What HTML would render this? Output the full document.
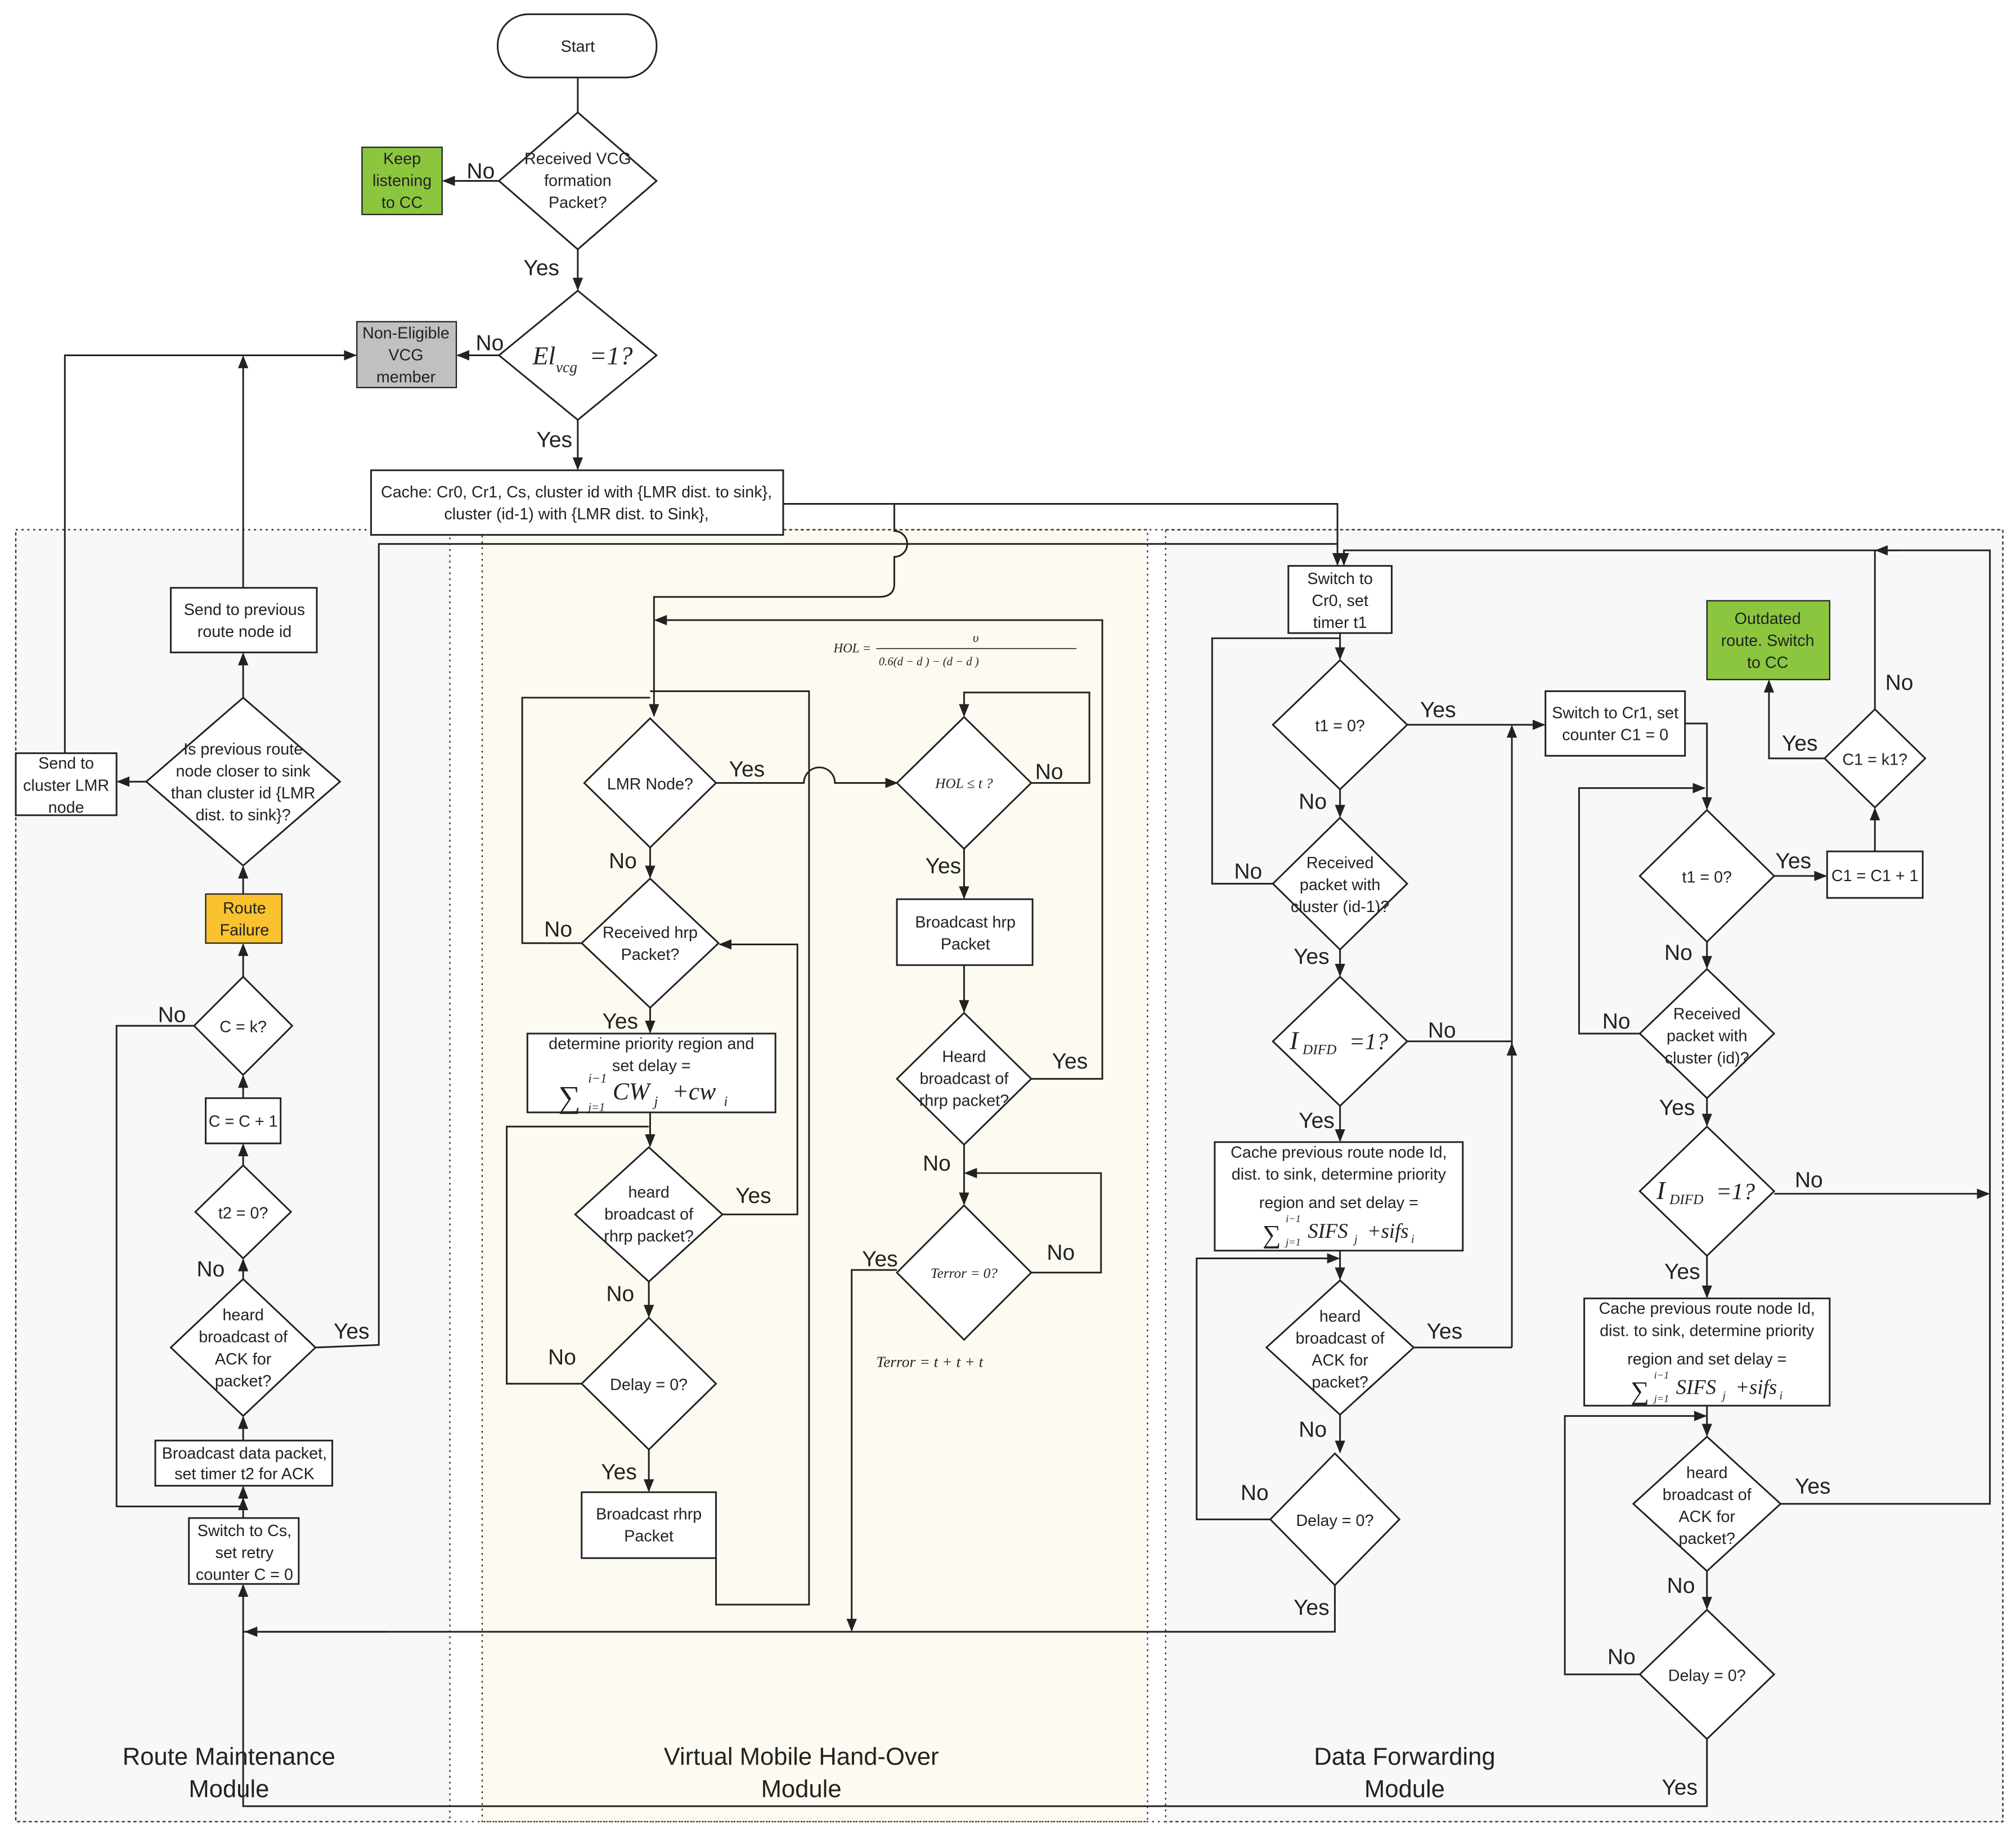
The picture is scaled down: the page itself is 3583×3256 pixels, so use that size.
<!DOCTYPE html>
<html><head><meta charset="utf-8"><style>
html,body{margin:0;padding:0;background:#fff;}
svg{display:block;}
text{font-family:"Liberation Sans",sans-serif;fill:#222;}
.t{font-size:12.5px;text-anchor:middle;}
.l{font-size:17px;}
.m{font-size:19px;text-anchor:middle;}
.s{font-family:"Liberation Serif",serif;font-style:italic;}
.sh{fill:#fff;stroke:#222;stroke-width:1.3;}
.ln{fill:none;stroke:#222;stroke-width:1.3;}
</style></head><body>
<svg width="3583" height="3256" viewBox="0 0 1560 1418" xmlns="http://www.w3.org/2000/svg">
<defs><marker id="a" markerWidth="10" markerHeight="10" refX="9" refY="5" orient="auto" markerUnits="userSpaceOnUse"><path d="M0,1 L10,5 L0,9 Z" fill="#222"/></marker></defs>
<rect width="1560" height="1418" fill="#fff"/>
<!-- modules -->
<rect x="12" y="410" width="336" height="1000" fill="#f8f8f8" stroke="#333" stroke-dasharray="1.5,3"/>
<rect x="373" y="410" width="515" height="1000" fill="#fdfbf1" stroke="#333" stroke-dasharray="1.5,3"/>
<rect x="902" y="410" width="648" height="1000" fill="#f9f8f8" stroke="#333" stroke-dasharray="1.5,3"/>
<rect x="12" y="410" width="1538" height="1000" fill="none" stroke="#333" stroke-dasharray="1.5,3"/>
<text class="m" x="177" y="1366">Route Maintenance</text><text class="m" x="177" y="1391">Module</text>
<text class="m" x="620" y="1366">Virtual Mobile Hand-Over</text><text class="m" x="620" y="1391">Module</text>
<text class="m" x="1087" y="1366">Data Forwarding</text><text class="m" x="1087" y="1391">Module</text>

<!-- top -->
<rect class="sh" x="385" y="11" width="123" height="49" rx="24"/><text class="t" x="447" y="40">Start</text>
<path class="ln" d="M447,60 V87"/>
<polygon class="sh" points="447,87 508,140 447,193 386,140"/>
<text class="t" x="447" y="127">Received VCG</text><text class="t" x="447" y="144">formation</text><text class="t" x="447" y="161">Packet?</text>
<rect x="280" y="114" width="62" height="52" fill="#8cc63f" stroke="#222"/>
<text class="t" x="311" y="127">Keep</text><text class="t" x="311" y="144">listening</text><text class="t" x="311" y="161">to CC</text>
<path class="ln" d="M386,140 H343" marker-end="url(#a)"/><text class="l" x="361" y="138">No</text>
<path class="ln" d="M447,193 V224" marker-end="url(#a)"/><text class="l" x="405" y="213">Yes</text>
<polygon class="sh" points="447,225 508,275 447,325 386,275"/>
<text class="s" x="412" y="282" font-size="20">El</text><text class="s" x="430" y="288" font-size="12">vcg</text><text class="s" x="456" y="282" font-size="20">=1?</text>
<rect x="276" y="249" width="77" height="51" fill="#c0c0c0" stroke="#222"/>
<text class="t" x="314" y="262">Non-Eligible</text><text class="t" x="314" y="279">VCG</text><text class="t" x="314" y="296">member</text>
<path class="ln" d="M386,275 H354" marker-end="url(#a)"/><text class="l" x="368" y="271">No</text>
<path class="ln" d="M447,325 V363" marker-end="url(#a)"/><text class="l" x="415" y="346">Yes</text>
<rect class="sh" x="287" y="364" width="319" height="50"/>
<text class="t" x="446" y="385">Cache: Cr0, Cr1, Cs, cluster id with {LMR dist. to sink},</text>
<text class="t" x="446" y="402">cluster (id-1) with {LMR dist. to Sink},</text>
<path class="ln" d="M606,390 H1035 V437" marker-end="url(#a)"/>
<path class="ln" d="M692,390 V411 a10,10 0 0 1 0,20 V452 Q692,462 680,462 H506 V554" marker-end="url(#a)"/>

<!-- left module -->
<rect class="sh" x="132" y="455" width="113" height="50"/>
<text class="t" x="189" y="476">Send to previous</text><text class="t" x="189" y="493">route node id</text>
<path class="ln" d="M188,455 V276" marker-end="url(#a)"/>
<path class="ln" d="M50,583 V275 H275" marker-end="url(#a)"/>
<polygon class="sh" points="188,540 263,605 188,670 113,605"/>
<text class="t" x="188" y="584">Is previous route</text><text class="t" x="188" y="601">node closer to sink</text><text class="t" x="188" y="618">than cluster id {LMR</text><text class="t" x="188" y="635">dist. to sink}?</text>
<path class="ln" d="M188,540 V506" marker-end="url(#a)"/>
<rect class="sh" x="12" y="583" width="78" height="48"/>
<text class="t" x="51" y="595">Send to</text><text class="t" x="51" y="612">cluster LMR</text><text class="t" x="51" y="629">node</text>
<path class="ln" d="M113,605 H91" marker-end="url(#a)"/>
<rect x="159" y="692" width="59" height="38" fill="#f9c22e" stroke="#222"/>
<text class="t" x="189" y="707">Route</text><text class="t" x="189" y="724">Failure</text>
<path class="ln" d="M188,692 V671" marker-end="url(#a)"/>
<polygon class="sh" points="188,756 226,794 188,832 150,794"/><text class="t" x="188" y="799">C = k?</text>
<path class="ln" d="M188,756 V731" marker-end="url(#a)"/>
<path class="ln" d="M150,794 H90 V1166 H188"/><text class="l" x="122" y="791">No</text>
<rect class="sh" x="159" y="850" width="58" height="35"/><text class="t" x="188" y="872">C = C + 1</text>
<path class="ln" d="M188,850 V833" marker-end="url(#a)"/>
<polygon class="sh" points="188,902 225,938 188,974 151,938"/><text class="t" x="188" y="943">t2 = 0?</text>
<path class="ln" d="M188,902 V886" marker-end="url(#a)"/>
<polygon class="sh" points="188,990 244,1043 188,1096 132,1043"/>
<text class="t" x="188" y="1022">heard</text><text class="t" x="188" y="1039">broadcast of</text><text class="t" x="188" y="1056">ACK for</text><text class="t" x="188" y="1073">packet?</text>
<path class="ln" d="M188,990 V975" marker-end="url(#a)"/><text class="l" x="152" y="988">No</text>
<path class="ln" d="M244,1043 L293,1041 V421 H1035"/><text class="l" x="258" y="1036">Yes</text>
<rect class="sh" x="120" y="1115" width="137" height="35"/>
<text class="t" x="189" y="1129">Broadcast data packet,</text><text class="t" x="189" y="1145">set timer t2 for ACK</text>
<path class="ln" d="M188,1115 V1097" marker-end="url(#a)"/>
<rect class="sh" x="146" y="1175" width="85" height="51"/>
<text class="t" x="189" y="1189">Switch to Cs,</text><text class="t" x="189" y="1206">set retry</text><text class="t" x="189" y="1223">counter C = 0</text>
<path class="ln" d="M188,1175 V1151" marker-end="url(#a)"/>
<path class="ln" d="M188,1166 V1160" marker-end="url(#a)"/>
<path class="ln" d="M1321,1346 V1398 H188 V1227" marker-end="url(#a)"/>
<path class="ln" d="M1033,1227 V1263 H188"/>
<path class="ln" d="M300,1263 H190" marker-end="url(#a)"/>

<!-- middle module -->
<polygon class="sh" points="503,556 554,606 503,656 452,606"/><text class="t" x="503" y="611">LMR Node?</text>
<path class="ln" d="M554,606 H622 a12,12 0 0 1 24,0 H694" marker-end="url(#a)"/><text class="l" x="564" y="601">Yes</text>
<path class="ln" d="M503,656 V679" marker-end="url(#a)"/><text class="l" x="471" y="672">No</text>
<polygon class="sh" points="503,680 556,730 503,780 450,730"/>
<text class="t" x="503" y="726">Received hrp</text><text class="t" x="503" y="743">Packet?</text>
<path class="ln" d="M450,730 H404 V540 H503"/><text class="l" x="421" y="725">No</text>
<path class="ln" d="M554,1206 V1242 H626 V535 H503"/>
<path class="ln" d="M503,780 V799" marker-end="url(#a)"/><text class="l" x="466" y="796">Yes</text>
<rect class="sh" x="408" y="800" width="192" height="61"/>
<text class="t" x="504" y="812">determine priority region and</text><text class="t" x="504" y="829">set delay =</text>
<text class="s" x="432" y="857" font-size="24">∑</text><text class="s" x="455" y="860" font-size="9">j=1</text><text class="s" x="455" y="838" font-size="10">i−1</text>
<text class="s" x="474" y="851" font-size="19">CW</text><text class="s" x="506" y="856" font-size="11">j</text><text class="s" x="520" y="851" font-size="19">+cw</text><text class="s" x="560" y="856" font-size="11">i</text>
<path class="ln" d="M503,861 V887" marker-end="url(#a)"/>
<polygon class="sh" points="502,888 559,940 502,992 445,940"/>
<text class="t" x="502" y="927">heard</text><text class="t" x="502" y="944">broadcast of</text><text class="t" x="502" y="961">rhrp packet?</text>
<path class="ln" d="M559,940 H617 V731 H557" marker-end="url(#a)"/><text class="l" x="569" y="931">Yes</text>
<path class="ln" d="M502,992 V1019" marker-end="url(#a)"/><text class="l" x="469" y="1007">No</text>
<polygon class="sh" points="502,1020 554,1071 502,1122 450,1071"/><text class="t" x="502" y="1076">Delay = 0?</text>
<path class="ln" d="M450,1071 H392 V872 H502"/><text class="l" x="424" y="1056">No</text>
<path class="ln" d="M502,1122 V1154" marker-end="url(#a)"/><text class="l" x="465" y="1145">Yes</text>
<rect class="sh" x="450" y="1155" width="104" height="51"/>
<text class="t" x="502" y="1176">Broadcast rhrp</text><text class="t" x="502" y="1193">Packet</text>

<text class="s" x="645" y="505" font-size="10">HOL =</text>
<line x1="678" y1="502" x2="833" y2="502" stroke="#222" stroke-width="0.7"/>
<text class="s" x="755" y="497" font-size="10" text-anchor="middle">υ</text>
<text class="s" x="680" y="515" font-size="9">0.6(d − d ) − (d − d )</text>
<polygon class="sh" points="746,555 798,606 746,657 694,606"/>
<text class="s" x="746" y="610" font-size="11" text-anchor="middle">HOL ≤ t   ?</text>
<path class="ln" d="M798,606 H843 V536 H746 V554" marker-end="url(#a)"/><text class="l" x="801" y="603">No</text>
<path class="ln" d="M746,657 V695" marker-end="url(#a)"/><text class="l" x="716" y="676">Yes</text>
<rect class="sh" x="694" y="696" width="105" height="51"/>
<text class="t" x="747" y="718">Broadcast hrp</text><text class="t" x="747" y="735">Packet</text>
<path class="ln" d="M746,747 V783" marker-end="url(#a)"/>
<polygon class="sh" points="746,784 798,835 746,886 694,835"/>
<text class="t" x="746" y="822">Heard</text><text class="t" x="746" y="839">broadcast of</text><text class="t" x="746" y="856">rhrp packet?</text>
<path class="ln" d="M798,835 H853 V480 H507" marker-end="url(#a)"/><text class="l" x="814" y="827">Yes</text>
<path class="ln" d="M746,886 V932" marker-end="url(#a)"/><text class="l" x="714" y="906">No</text>
<polygon class="sh" points="746,933 798,985 746,1037 694,985"/>
<text class="s" x="746" y="989" font-size="11" text-anchor="middle">Terror = 0?</text>
<path class="ln" d="M798,985 H852 V908 H747" marker-end="url(#a)"/><text class="l" x="810" y="975">No</text>
<path class="ln" d="M694,983 H659 V1262" marker-end="url(#a)"/><text class="l" x="667" y="980">Yes</text>
<text class="s" x="678" y="1058" font-size="12">Terror = t   + t   + t</text>

<!-- right module -->
<rect class="sh" x="997" y="438" width="80" height="52"/>
<text class="t" x="1037" y="452">Switch to</text><text class="t" x="1037" y="469">Cr0, set</text><text class="t" x="1037" y="486">timer t1</text>
<path class="ln" d="M1037,490 V510" marker-end="url(#a)"/>
<polygon class="sh" points="1037,511 1089,561 1037,611 985,561"/><text class="t" x="1037" y="566">t1 = 0?</text>
<path class="ln" d="M1089,561 H1195" marker-end="url(#a)"/><text class="l" x="1099" y="555">Yes</text>
<path class="ln" d="M1037,611 V632" marker-end="url(#a)"/><text class="l" x="1005" y="626">No</text>
<polygon class="sh" points="1037,633 1089,684 1037,735 985,684"/>
<text class="t" x="1037" y="672">Received</text><text class="t" x="1037" y="689">packet with</text><text class="t" x="1037" y="706">cluster (id-1)?</text>
<path class="ln" d="M985,684 H938 V494 H1037"/><text class="l" x="955" y="680">No</text>
<path class="ln" d="M1037,735 V755" marker-end="url(#a)"/><text class="l" x="1001" y="746">Yes</text>
<polygon class="sh" points="1037,756 1089,806 1037,856 985,806"/>
<text class="s" x="998" y="812" font-size="20">I</text><text class="s" x="1008" y="816" font-size="11">DIFD</text><text class="s" x="1044" y="812" font-size="18">=1?</text>
<path class="ln" d="M1089,806 H1170"/><text class="l" x="1105" y="803">No</text>
<path class="ln" d="M1170,1043 V808" marker-end="url(#a)"/>
<path class="ln" d="M1170,808 V562" marker-end="url(#a)"/>
<path class="ln" d="M1037,856 V883" marker-end="url(#a)"/><text class="l" x="1005" y="873">Yes</text>
<rect class="sh" x="940" y="884" width="192" height="84"/>
<text class="t" x="1036" y="896">Cache previous route node Id,</text><text class="t" x="1036" y="913">dist. to sink, determine priority</text><text class="t" x="1036" y="935">region and set delay =</text>
<text class="s" x="977" y="962" font-size="20">∑</text><text class="s" x="995" y="964" font-size="8">j=1</text><text class="s" x="995" y="946" font-size="8">i−1</text>
<text class="s" x="1012" y="958" font-size="16">SIFS</text><text class="s" x="1048" y="962" font-size="9">j</text><text class="s" x="1058" y="958" font-size="16">+sifs</text><text class="s" x="1092" y="962" font-size="9">i</text>
<path class="ln" d="M1037,968 V990" marker-end="url(#a)"/>
<polygon class="sh" points="1037,991 1094,1043 1037,1095 980,1043"/>
<text class="t" x="1037" y="1023">heard</text><text class="t" x="1037" y="1040">broadcast of</text><text class="t" x="1037" y="1057">ACK for</text><text class="t" x="1037" y="1074">packet?</text>
<path class="ln" d="M1094,1043 H1170"/><text class="l" x="1104" y="1036">Yes</text>
<path class="ln" d="M1037,1095 V1124" marker-end="url(#a)"/><text class="l" x="1005" y="1112">No</text>
<polygon class="sh" points="1033,1125 1083,1176 1033,1227 983,1176"/><text class="t" x="1033" y="1181">Delay = 0?</text>
<path class="ln" d="M983,1176 H926 V974 H1036" marker-end="url(#a)"/><text class="l" x="960" y="1161">No</text>
<text class="l" x="1001" y="1250">Yes</text>

<rect class="sh" x="1196" y="535" width="108" height="50"/>
<text class="t" x="1250" y="556">Switch to Cr1, set</text><text class="t" x="1250" y="573">counter C1 = 0</text>
<path class="ln" d="M1304,560 H1321 V626" marker-end="url(#a)"/>
<path class="ln" d="M1269,800 H1222 V610 H1319" marker-end="url(#a)"/><text class="l" x="1240" y="796">No</text>
<polygon class="sh" points="1321,627 1373,678 1321,729 1269,678"/><text class="t" x="1321" y="683">t1 = 0?</text>
<path class="ln" d="M1373,678 H1413" marker-end="url(#a)"/><text class="l" x="1374" y="672">Yes</text>
<rect class="sh" x="1414" y="659" width="74" height="36"/><text class="t" x="1451" y="682">C1 = C1 + 1</text>
<path class="ln" d="M1451,659 V626" marker-end="url(#a)"/>
<polygon class="sh" points="1451,549 1490,587 1451,625 1412,587"/><text class="t" x="1451" y="592">C1 = k1?</text>
<path class="ln" d="M1412,587 H1369 V527" marker-end="url(#a)"/><text class="l" x="1379" y="581">Yes</text>
<rect x="1321" y="465" width="95" height="61" fill="#8cc63f" stroke="#222"/>
<text class="t" x="1368" y="483">Outdated</text><text class="t" x="1368" y="500">route. Switch</text><text class="t" x="1368" y="517">to CC</text>
<path class="ln" d="M1451,549 V426"/><text class="l" x="1459" y="534">No</text>
<path class="ln" d="M1540,924 V426 H1040 V437" marker-end="url(#a)"/>
<path class="ln" d="M1470,426 H1452" marker-end="url(#a)"/>
<path class="ln" d="M1321,729 V749" marker-end="url(#a)"/><text class="l" x="1288" y="743">No</text>
<polygon class="sh" points="1321,750 1373,800 1321,850 1269,800"/>
<text class="t" x="1321" y="789">Received</text><text class="t" x="1321" y="806">packet with</text><text class="t" x="1321" y="823">cluster (id)?</text>
<path class="ln" d="M1321,850 V871" marker-end="url(#a)"/><text class="l" x="1284" y="863">Yes</text>
<polygon class="sh" points="1321,872 1373,922 1321,972 1269,922"/>
<text class="s" x="1282" y="928" font-size="20">I</text><text class="s" x="1292" y="932" font-size="11">DIFD</text><text class="s" x="1328" y="928" font-size="18">=1?</text>
<path class="ln" d="M1373,924 H1539" marker-end="url(#a)"/><text class="l" x="1389" y="919">No</text>
<path class="ln" d="M1375,1164 H1540 V924"/>
<path class="ln" d="M1321,972 V1004" marker-end="url(#a)"/><text class="l" x="1288" y="990">Yes</text>
<rect class="sh" x="1226" y="1005" width="190" height="83"/>
<text class="t" x="1321" y="1017">Cache previous route node Id,</text><text class="t" x="1321" y="1034">dist. to sink, determine priority</text><text class="t" x="1321" y="1056">region and set delay =</text>
<text class="s" x="1262" y="1083" font-size="20">∑</text><text class="s" x="1280" y="1085" font-size="8">j=1</text><text class="s" x="1280" y="1067" font-size="8">i−1</text>
<text class="s" x="1297" y="1079" font-size="16">SIFS</text><text class="s" x="1333" y="1083" font-size="9">j</text><text class="s" x="1343" y="1079" font-size="16">+sifs</text><text class="s" x="1377" y="1083" font-size="9">i</text>
<path class="ln" d="M1321,1088 V1111" marker-end="url(#a)"/>
<polygon class="sh" points="1321,1112 1378,1164 1321,1216 1264,1164"/>
<text class="t" x="1321" y="1144">heard</text><text class="t" x="1321" y="1161">broadcast of</text><text class="t" x="1321" y="1178">ACK for</text><text class="t" x="1321" y="1195">packet?</text>
<text class="l" x="1389" y="1156">Yes</text>
<path class="ln" d="M1321,1216 V1245" marker-end="url(#a)"/><text class="l" x="1290" y="1233">No</text>
<polygon class="sh" points="1321,1246 1373,1296 1321,1346 1269,1296"/><text class="t" x="1321" y="1301">Delay = 0?</text>
<path class="ln" d="M1269,1296 H1211 V1096 H1320" marker-end="url(#a)"/><text class="l" x="1244" y="1288">No</text>
<text class="l" x="1286" y="1389">Yes</text>
</svg>
</body></html>
